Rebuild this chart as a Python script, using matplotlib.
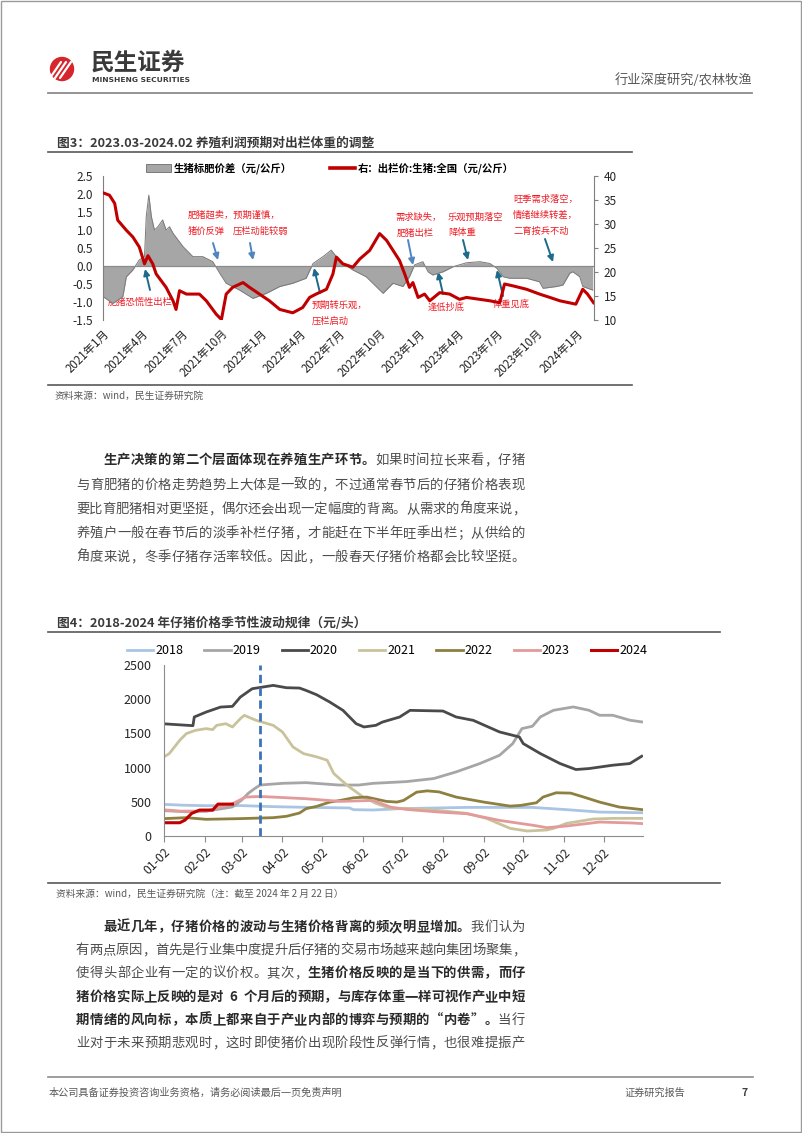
import matplotlib
matplotlib.use('Agg')

import matplotlib.pyplot as plt
import pandas as pd
from matplotlib.patches import Circle, Rectangle, Patch
from matplotlib.lines import Line2D

plt.rcParams['font.family'] = ['Noto Sans CJK SC', 'DejaVu Sans']
plt.rcParams['axes.unicode_minus'] = False

W, H = 802, 1133

# ---------------- figure 3 data ----------------
spread_dates = ['2021-01-01', '2021-01-24', '2021-02-16', '2021-02-24', '2021-03-11', '2021-03-26',
                '2021-04-07', '2021-04-11', '2021-04-17', '2021-04-23', '2021-04-30', '2021-05-08',
                '2021-05-19', '2021-05-27', '2021-06-04', '2021-06-12', '2021-07-05', '2021-07-28',
                '2021-08-20', '2021-09-12', '2021-09-28', '2021-10-13', '2021-11-13', '2021-12-14',
                '2022-01-14', '2022-02-14', '2022-03-16', '2022-04-16', '2022-05-02', '2022-05-25',
                '2022-06-13', '2022-06-25', '2022-07-10', '2022-08-02', '2022-09-02', '2022-09-25',
                '2022-10-11', '2022-11-03', '2022-11-26', '2022-12-11', '2022-12-23', '2022-12-31',
                '2023-01-11', '2023-01-23', '2023-02-03', '2023-02-27', '2023-03-22', '2023-04-22',
                '2023-05-23', '2023-06-15', '2023-07-01', '2023-07-16', '2023-07-31', '2023-09-08',
                '2023-10-08', '2023-10-16', '2023-11-16', '2023-12-01', '2023-12-17', '2023-12-24',
                '2024-01-09', '2024-01-16', '2024-02-08']
spread_vals = [-0.85, -1.04, -0.85, -0.30, -0.11, 0.17,
               0.26, 1.37, 1.97, 1.37, 1.00, 1.09,
               1.28, 1.00, 1.09, 0.91, 0.54, 0.26,
               0.26, 0.12, -0.20, -0.48, -0.67, -0.90,
               -0.76, -0.57, -0.48, -0.34, 0.07, 0.26,
               0.44, 0.26, 0.07, -0.11, -0.30, -0.57,
               -0.76, -0.48, -0.57, -0.30, 0.03, 0.07,
               0.12, -0.16, -0.25, -0.16, -0.02, 0.09,
               0.12, 0.07, -0.06, -0.30, -0.34, -0.34,
               -0.44, -0.62, -0.57, -0.53, -0.20, -0.16,
               -0.30, -0.57, -0.67]

price_dates = ['2021-01-01', '2021-01-16', '2021-01-28', '2021-02-04', '2021-02-24', '2021-03-11',
               '2021-03-26', '2021-04-07', '2021-04-15', '2021-04-26', '2021-05-04', '2021-05-27',
               '2021-06-12', '2021-06-19', '2021-06-27', '2021-07-13', '2021-08-12', '2021-08-28',
               '2021-09-20', '2021-10-02', '2021-10-13', '2021-10-28', '2021-11-21', '2021-12-06',
               '2021-12-29', '2022-01-21', '2022-02-14', '2022-03-16', '2022-04-08', '2022-04-24',
               '2022-05-09', '2022-06-02', '2022-06-17', '2022-06-25', '2022-07-10', '2022-08-02',
               '2022-08-18', '2022-09-10', '2022-10-03', '2022-10-19', '2022-11-03', '2022-11-18',
               '2022-11-30', '2022-12-11', '2022-12-19', '2022-12-31', '2023-01-15', '2023-01-27',
               '2023-02-19', '2023-03-14', '2023-04-06', '2023-04-22', '2023-05-23', '2023-06-15',
               '2023-07-08', '2023-07-19', '2023-08-08', '2023-09-08', '2023-10-08', '2023-11-01',
               '2023-11-24', '2023-12-31', '2024-01-16', '2024-01-27', '2024-02-10']
price_vals = [36.5, 36.0, 34.3, 30.8, 28.7, 27.3,
              25.2, 21.7, 23.4, 21.7, 19.6, 16.8,
              14.0, 12.2, 16.1, 15.4, 15.4, 14.0,
              11.2, 10.1, 15.4, 16.8, 17.8, 16.8,
              15.4, 14.0, 12.2, 11.5, 12.6, 14.7,
              15.4, 16.4, 19.6, 23.1, 21.7, 21.0,
              22.7, 24.5, 28.0, 26.6, 24.5, 22.4,
              19.6, 16.8, 17.8, 14.7, 15.4, 14.0,
              15.7, 15.4, 14.3, 14.7, 14.3, 14.0,
              13.6, 17.5, 17.1, 16.4, 15.4, 14.7,
              14.0, 13.3, 16.4, 15.4, 13.6]

quarter_ticks = pd.date_range('2021-01-01', '2024-01-01', freq='QS')

# ---------------- figure 4 data (day 0 = Jan 2) ----------------
month_labels = ['01-02', '02-02', '03-02', '04-02', '05-02', '06-02',
                '07-02', '08-02', '09-02', '10-02', '11-02', '12-02']
month_days = [0, 31, 59, 90, 120, 151, 181, 212, 243, 273, 304, 334]
marker_day = 73

days_2018 = [0, 15, 32, 58, 83, 108, 141, 144, 159, 180, 230, 280, 306, 331, 363]
vals_2018 = [462, 450, 443, 445, 429, 419, 410, 385, 380, 400, 418, 418, 385, 350, 340]

days_2019 = [0, 17, 32, 52, 59, 64, 69, 73, 90, 108, 133, 148, 159, 184, 205, 222, 240,
             255, 265, 272, 280, 286, 296, 311, 323, 331, 341, 354, 363]
vals_2019 = [370, 355, 362, 425, 525, 623, 695, 745, 770, 780, 745, 745, 770, 795, 840, 937, 1059,
             1180, 1351, 1570, 1605, 1741, 1838, 1887, 1838, 1765, 1765, 1693, 1668]

days_2020 = [0, 22, 23, 32, 43, 52, 58, 67, 83, 93, 103, 108, 116, 126, 136, 146, 152, 161,
             166, 179, 187, 212, 222, 235, 255, 270, 273, 286, 301, 313, 323, 341, 354, 363]
vals_2020 = [1640, 1613, 1740, 1812, 1885, 1895, 2031, 2153, 2202, 2168, 2163, 2128, 2065, 1958,
             1837, 1642, 1594, 1618, 1666, 1739, 1837, 1827, 1740, 1691, 1521, 1448, 1351, 1205,
             1059, 972, 986, 1035, 1059, 1166]

days_2021 = [0, 4, 12, 17, 24, 32, 37, 40, 47, 52, 58, 61, 70, 83, 90, 98, 106, 116, 124,
             129, 139, 151, 161, 172, 184, 205, 230, 245, 263, 276, 291, 296, 306, 326, 341, 364]
vals_2021 = [1157, 1205, 1400, 1497, 1545, 1570, 1555, 1618, 1642, 1594, 1715, 1764, 1691, 1618,
             1521, 1302, 1205, 1157, 1108, 914, 744, 574, 477, 404, 404, 380, 331, 258, 112, 73,
             88, 112, 185, 248, 258, 258]

days_2022 = [0, 17, 32, 58, 83, 93, 103, 108, 116, 126, 134, 144, 154, 169, 177, 182, 192,
             200, 209, 222, 243, 263, 271, 283, 288, 298, 309, 319, 331, 346, 364]
vals_2022 = [254, 268, 244, 254, 268, 288, 336, 400, 433, 496, 520, 559, 569, 506, 496, 520, 641,
             660, 645, 569, 496, 437, 447, 486, 569, 632, 627, 569, 496, 423, 384]

days_2023 = [0, 12, 32, 52, 62, 73, 83, 108, 134, 159, 172, 184, 209, 230, 255, 281, 291,
             306, 331, 356, 364]
vals_2023 = [383, 364, 364, 471, 569, 578, 569, 545, 506, 520, 423, 389, 350, 326, 228, 155, 122,
             146, 204, 190, 180]

days_2024 = [0, 12, 16, 21, 27, 37, 41, 52]
vals_2024 = [194, 194, 233, 330, 379, 379, 466, 466]

series_2 = [('2018', days_2018, vals_2018, '#a9c5e3', 2.0),
            ('2019', days_2019, vals_2019, '#a6a6a6', 2.0),
            ('2020', days_2020, vals_2020, '#4a4a4a', 2.0),
            ('2021', days_2021, vals_2021, '#c9c39c', 2.0),
            ('2022', days_2022, vals_2022, '#8e8040', 2.0),
            ('2023', days_2023, vals_2023, '#e39a9a', 2.0),
            ('2024', days_2024, vals_2024, '#c00000', 2.2)]

para1 = [[('生产决策的第二个层面体现在养殖生产环节。', True), ('如果时间拉长来看，仔猪', False)],
         [('与育肥猪的价格走势趋势上大体是一致的，不过通常春节后的仔猪价格表现', False)],
         [('要比育肥猪相对更坚挺，偶尔还会出现一定幅度的背离。从需求的角度来说，', False)],
         [('养殖户一般在春节后的淡季补栏仔猪，才能赶在下半年旺季出栏；从供给的', False)],
         [('角度来说，冬季仔猪存活率较低。因此，一般春天仔猪价格都会比较坚挺。', False)]]
para2 = [[('最近几年，仔猪价格的波动与生猪价格背离的频次明显增加。', True), ('我们认为', False)],
         [('有两点原因，首先是行业集中度提升后仔猪的交易市场越来越向集团场聚集，', False)],
         [('使得头部企业有一定的议价权。其次，', False), ('生猪价格反映的是当下的供需，而仔', True)],
         [('猪价格实际上反映的是对 6 个月后的预期，与库存体重一样可视作产业中短', True)],
         [('期情绪的风向标，本质上都来自于产业内部的博弈与预期的“内卷”。', True), ('当行', False)],
         [('业对于未来预期悲观时，这时即使猪价出现阶段性反弹行情，也很难提振产', False)]]


def box(x0, y0, x1, y1):
    return [x0 / W, 1 - y1 / H, (x1 - x0) / W, (y1 - y0) / H]


fig = plt.figure(figsize=(W / 100, H / 100), dpi=100)
page = fig.add_axes([0, 0, 1, 1])
page.set_xlim(0, W)
page.set_ylim(H, 0)
page.axis('off')

# page border
page.add_patch(Rectangle((0.5, 0.5), W - 1.5, H - 1.5, fill=False, ec='#9a9a9a', lw=1))

# header
page.add_patch(Circle((62, 69), 11.5, color='#d6262b'))
for dx in (-5, 0, 5):
    page.plot([55 + dx, 62 + dx + 4], [78, 62], color='white', lw=1.6, solid_capstyle='round')
page.text(91, 63, '民生证券', fontsize=17, fontweight='bold', color='#3a3a3a', va='center')
page.text(92, 80, 'MINSHENG SECURITIES', fontsize=5.4, fontweight='bold', color='#3a3a3a',
          va='center', family='DejaVu Sans')
page.text(752, 80, '行业深度研究/农林牧渔', fontsize=9.5, color='#595959', ha='right', va='center')
page.plot([48, 752], [93, 93], color='#8c8c8c', lw=1.3)


def write_line(x0, x1, y, segs, size=9.6):
    # justified line: each character gets a cell, ascii chars half a cell
    chars = [(ch, bold) for s, bold in segs for ch in s]
    weights = [0.5 if ord(ch) < 128 else 1.0 for ch, _ in chars]
    unit = (x1 - x0) / sum(weights)
    pos = x0
    for (ch, bold), w in zip(chars, weights):
        page.text(pos + unit * w / 2, y, ch, fontsize=size, va='center', ha='center',
                  color='#2b2b2b' if bold else '#4d4d4d',
                  fontweight='bold' if bold else 'normal')
        pos += unit * w


# ---------------- figure 3 ----------------
page.text(57, 143, '图3：2023.03-2024.02 养殖利润预期对出栏体重的调整', fontsize=9.2,
          fontweight='bold', color='#3a3a3a', va='center')
page.plot([48, 632], [152, 152], color='#595959', lw=1.2)

ax1 = fig.add_axes(box(103, 176, 594, 320))
ax1.set_facecolor('none')
sd = pd.to_datetime(spread_dates)
ax1.fill_between(sd, spread_vals, 0, color='#a6a6a6', lw=0)
ax1.plot(sd, spread_vals, color='#7a7a7a', lw=0.7)
ax1.axhline(0, color='#8c8c8c', lw=0.9)
ax1.set_ylim(-1.5, 2.5)
ax1.set_yticks([-1.5, -1.0, -0.5, 0.0, 0.5, 1.0, 1.5, 2.0, 2.5])
ax1.set_yticklabels(['%.1f' % v for v in ax1.get_yticks()])
ax1.set_xlim(pd.Timestamp('2021-01-01'), pd.Timestamp('2024-02-11'))
ax1.set_xticks(quarter_ticks)
ax1.set_xticklabels(['%d年%d月' % (d.year, d.month) for d in quarter_ticks])
for s in ('top', 'right', 'bottom'):
    ax1.spines[s].set_visible(False)
ax1.spines['left'].set_color('#7f7f7f')
ax1.tick_params(axis='y', length=0, labelsize=8.5, pad=7, colors='#262626')
ax1.tick_params(axis='x', length=0, labelsize=8.3, pad=5, colors='#262626')
for lbl in ax1.get_xticklabels():
    lbl.set_rotation(45)
    lbl.set_ha('right')
    lbl.set_rotation_mode('anchor')

ax1r = ax1.twinx()
ax1r.plot(pd.to_datetime(price_dates), price_vals, color='#c00000', lw=2.2)
ax1r.set_ylim(10, 40)
ax1r.set_yticks([10, 15, 20, 25, 30, 35, 40])
for s in ('top', 'left', 'bottom'):
    ax1r.spines[s].set_visible(False)
ax1r.spines['right'].set_color('#7f7f7f')
ax1r.tick_params(axis='y', length=3, labelsize=8.5, pad=4, colors='#262626')
ax1r.tick_params(axis='y', color='#7f7f7f')

h1 = [Patch(facecolor='#a6a6a6', edgecolor='#7a7a7a', lw=0.7),
      Line2D([], [], color='#c00000', lw=2.6)]
fig.legend(h1, ['生猪标肥价差（元/公斤）', '右：出栏价:生猪:全国（元/公斤）'], loc='center',
           bbox_to_anchor=(330 / W, 1 - 168 / H), ncol=2, frameon=False,
           prop={'size': 7.5, 'weight': 'bold'}, handlelength=2.4, handleheight=0.8,
           handletextpad=0.3, columnspacing=3.6)

red = '#ee1c25'
dark_arrow = '#1d6a8a'
light_arrow = '#4f86c0'
notes = [(108, 302, '肥猪恐慌性出栏', (150, 290), (145, 269), dark_arrow),
         (188, 215, '肥猪超卖，预期谨慎，', (213, 243), (218, 260), light_arrow),
         (188, 231, '猪价反弹', None, None, None),
         (233, 231, '压栏动能较弱', (250, 243), (253, 260), light_arrow),
         (312, 305, '预期转乐观，', (320, 293), (314, 268), dark_arrow),
         (312, 321, '压栏启动', None, None, None),
         (395, 217, '需求缺失，', None, None, None),
         (397, 233, '肥猪出栏', (408, 240), (413, 265), light_arrow),
         (448, 217, '乐观预期落空', None, None, None),
         (448, 233, '降体重', (463, 240), (468, 260), dark_arrow),
         (513, 199, '旺季需求落空，', None, None, None),
         (513, 215, '情绪继续转差，', None, None, None),
         (513, 231, '二育按兵不动', (545, 239), (553, 262), dark_arrow),
         (428, 307, '逢低抄底', (443, 294), (438, 272), dark_arrow),
         (493, 304, '体重见底', (503, 296), (497, 270), dark_arrow)]
for x, y, s, a0, a1, c in notes:
    page.text(x, y, s, fontsize=6.7, color=red, va='center', ha='left', zorder=5)
    if a0 is not None:
        page.annotate('', xy=a1, xytext=a0, zorder=6,
                      arrowprops=dict(arrowstyle='-|>', color=c, lw=1.4, mutation_scale=9,
                                      shrinkA=0, shrinkB=0))
page.set_zorder(0)
ax1.set_zorder(1)
ax1r.set_zorder(2)

page.plot([48, 632], [385, 385], color='#595959', lw=1.2)
page.text(55, 396, '资料来源：wind，民生证券研究院', fontsize=7, color='#595959', va='center')

for i, line in enumerate(para1):
    write_line(103 if i == 0 else 76, 525, [460, 485, 509, 533, 557][i], line)

# ---------------- figure 4 ----------------
page.text(57, 623, '图4：2018-2024 年仔猪价格季节性波动规律（元/头）', fontsize=9.2,
          fontweight='bold', color='#3a3a3a', va='center')
page.plot([48, 720], [632, 632], color='#595959', lw=1.2)

ax2 = fig.add_axes(box(164, 665, 643, 836))
ax2.set_facecolor('none')
for name, d, v, c, lw in series_2:
    ax2.plot(d, v, color=c, lw=lw, label=name)
ax2.axvline(marker_day, color='#3d72b8', lw=2, ls=(0, (3, 1.6)))
ax2.set_xlim(0, 364)
ax2.set_ylim(0, 2500)
ax2.set_yticks([0, 500, 1000, 1500, 2000, 2500])
ax2.set_xticks(month_days)
ax2.set_xticklabels(month_labels)
for s in ('top', 'right'):
    ax2.spines[s].set_visible(False)
ax2.spines['left'].set_color('#8c8c8c')
ax2.spines['bottom'].set_color('#8c8c8c')
ax2.tick_params(axis='y', length=0, labelsize=9, pad=9, colors='#262626')
ax2.tick_params(axis='x', length=4, labelsize=8.8, pad=3, colors='#262626')
ax2.tick_params(axis='x', color='#8c8c8c')
for lbl in ax2.get_xticklabels():
    lbl.set_rotation(45)
    lbl.set_ha('right')
    lbl.set_rotation_mode('anchor')
ax2.set_zorder(1)
ax2.legend(loc='center', bbox_to_anchor=(387 / W, 1 - 651 / H), bbox_transform=fig.transFigure,
           ncol=7, frameon=False, fontsize=9, handlelength=2.1, handletextpad=0.15,
           columnspacing=1.7)

page.plot([48, 720], [883, 883], color='#595959', lw=1.2)
page.text(56, 894, '资料来源：wind，民生证券研究院（注：截至 2024 年 2 月 22 日）', fontsize=7,
          color='#595959', va='center')

for i, line in enumerate(para2):
    write_line(103 if i == 0 else 76, 525, [927, 950, 973, 997, 1020, 1043][i], line)

# footer
page.plot([48, 753], [1077, 1077], color='#8c8c8c', lw=1.2)
page.text(49, 1093, '本公司具备证券投资咨询业务资格，请务必阅读最后一页免责声明', fontsize=7.3,
          color='#595959', va='center')
page.text(625, 1093, '证券研究报告', fontsize=7.3, color='#595959', va='center')
page.text(742, 1093, '7', fontsize=7.5, color='#404040', fontweight='bold', va='center')

fig.savefig('out.png', dpi=100, facecolor='white')
plt.close(fig)
